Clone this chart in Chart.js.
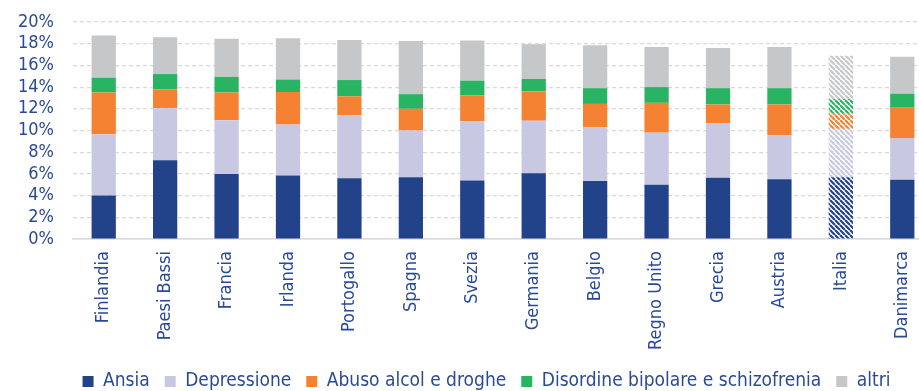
<!DOCTYPE html>
<html>
<head>
<meta charset="utf-8">
<script src="https://cdn.jsdelivr.net/npm/chart.js@4.4.1/dist/chart.umd.min.js"></script>
<style>
  html, body { margin: 0; padding: 0; background: #fff; overflow: hidden; width: 919px; height: 391px; }
  canvas { display: block; }
</style>
</head>
<body>
<canvas id="c" width="934" height="391"></canvas>
<script>
const categories = ['Finlandia','Paesi Bassi','Francia','Irlanda','Portogallo','Spagna','Svezia','Germania','Belgio','Regno Unito','Grecia','Austria','Italia','Danimarca'];
const ansia       = [4.0, 7.25, 6.0, 5.85, 5.6, 5.7, 5.4, 6.05, 5.35, 5.0, 5.65, 5.5, 5.7, 5.45];
const depressione = [5.65, 4.8, 4.95, 4.7, 5.8, 4.3, 5.45, 4.85, 4.95, 4.8, 5.0, 4.05, 4.45, 3.85];
const abuso       = [3.85, 1.75, 2.55, 3.0, 1.75, 2.0, 2.4, 2.7, 2.15, 2.75, 1.75, 2.85, 1.45, 2.8];
const bipolare    = [1.35, 1.4, 1.45, 1.15, 1.5, 1.35, 1.35, 1.15, 1.45, 1.45, 1.5, 1.5, 1.3, 1.3];
const altri       = [3.9, 3.4, 3.5, 3.8, 3.7, 4.9, 3.7, 3.2, 3.95, 3.7, 3.7, 3.8, 4.0, 3.4];
const seriesNames = ['Ansia','Depressione','Abuso alcol e droghe','Disordine bipolare e schizofrenia','altri'];
const hatchedCategory = 'Italia';
const yTicks = [0,2,4,6,8,10,12,14,16,18,20];

const colors = ['#22428A', '#C8C8E2', '#F58233', '#28B463', '#C6C7C8'];
const textColor = '#2B4A96';
const fontFamily = "'DejaVu Sans Condensed', 'DejaVu Sans', sans-serif";

function pattern(color) {
  const c = document.createElement('canvas');
  c.width = 5; c.height = 5;
  const x = c.getContext('2d');
  x.fillStyle = '#ffffff';
  x.fillRect(0, 0, 5, 5);
  x.strokeStyle = color;
  x.lineWidth = 2.2;
  x.beginPath();
  for (const k of [-5, 0, 5]) { x.moveTo(k, 0); x.lineTo(k + 5, 5); }
  x.stroke();
  return document.getElementById('c').getContext('2d').createPattern(c, 'repeat');
}

const seriesValues = [ansia, depressione, abuso, bipolare, altri];
const datasets = seriesValues.map((vals, i) => {
  const pat = pattern(colors[i]);
  return {
    label: seriesNames[i],
    data: vals,
    backgroundColor: categories.map(cat => cat === hatchedCategory ? pat : colors[i]),
    borderWidth: 0,
    categoryPercentage: 1.0,
    barPercentage: 0.395
  };
});

const legendShift = {
  id: 'legendShift',
  afterLayout(chart) {
    if (chart.legend) {
      chart.legend.left += 12;
      chart.legend.right += 12;
      if (chart.legend.adjustHitBoxes) chart.legend.adjustHitBoxes();
    }
  }
};

new Chart(document.getElementById('c'), {
  type: 'bar',
  data: { labels: categories, datasets },
  plugins: [legendShift],
  options: {
    responsive: false,
    devicePixelRatio: 1,
    animation: false,
    layout: { padding: { left: 16, right: 1, top: 22, bottom: -10 } },
    plugins: {
      tooltip: { enabled: false },
      legend: {
        position: 'bottom',
        labels: {
          color: textColor,
          font: { family: fontFamily, size: 19 },
          boxWidth: 11,
          boxHeight: 11,
          padding: 15
        }
      }
    },
    scales: {
      x: {
        stacked: true,
        afterFit: (s) => { s.height = 118; s.paddingLeft = 0; s.paddingRight = 0; },
        grid: { display: false, drawTicks: false },
        border: { display: true, color: '#D9D9D9', width: 1.5 },
        ticks: {
          color: textColor,
          font: { family: fontFamily, size: 18 },
          minRotation: 90,
          maxRotation: 90,
          padding: 12,
          autoSkip: false
        }
      },
      y: {
        stacked: true,
        min: 0,
        max: 20,
        afterFit: (s) => { s.width = 57; s.paddingTop = 0; s.paddingBottom = 0; },
        afterBuildTicks: (scale) => { scale.ticks = yTicks.map(v => ({ value: v })); },
        grid: { color: '#D9D9D9', lineWidth: 1.2, drawTicks: false },
        border: { display: false, dash: (ctx) => (ctx.tick && ctx.tick.value === 0) ? [] : [4, 3] },
        ticks: {
          color: textColor,
          font: { family: fontFamily, size: 18 },
          padding: 19,
          autoSkip: false,
          callback: (v) => v + '%'
        }
      }
    }
  }
});
</script>
</body>
</html>
